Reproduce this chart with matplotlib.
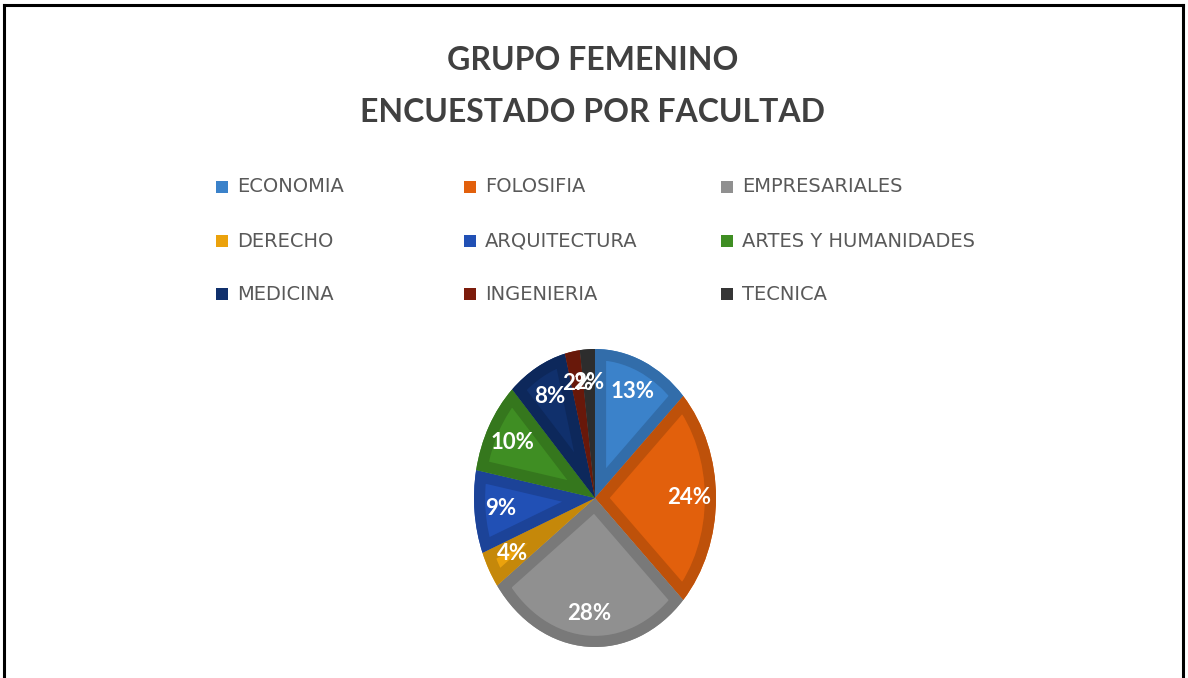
import matplotlib.pyplot as plt
from matplotlib.patches import Rectangle
from matplotlib.lines import Line2D
import matplotlib.colors as mcolors

# data
categorias = ['ECONOMIA', 'FOLOSIFIA', 'EMPRESARIALES',
              'DERECHO', 'ARQUITECTURA', 'ARTES Y HUMANIDADES',
              'MEDICINA', 'INGENIERIA', 'TECNICA']
porcentajes = [13, 24, 28, 4, 9, 10, 8, 2, 2]
colores = ['#3B82CA', '#E2600C', '#909090',
           '#EBA20C', '#2150B5', '#3F8E23',
           '#10306C', '#7C1C0C', '#353535']

W, H = 1188, 678
fig = plt.figure(figsize=(W / 100, H / 100), dpi=100)
fig.patch.set_facecolor('white')

# outer frame (bottom edge is cut off in the original)
for xs, ys in [([4 / W, 4 / W], [0, 1 - 5 / H]),
               ([4 / W, 1 - 5 / W], [1 - 5 / H, 1 - 5 / H]),
               ([1 - 5 / W, 1 - 5 / W], [0, 1 - 5 / H])]:
    fig.add_artist(Line2D(xs, ys, color='black', lw=2.2))

# title
tfont = ['Lato', 'DejaVu Sans']
fig.text(593 / W, 1 - 61 / H, 'GRUPO FEMENINO', ha='center', va='center',
         fontsize=23, fontweight='bold', color='#404040', family=tfont)
fig.text(593 / W, 1 - 113 / H, 'ENCUESTADO POR FACULTAD', ha='center', va='center',
         fontsize=23, fontweight='bold', color='#404040', family=tfont)

# legend, 3 columns
lfont = ['DejaVu Sans']
col_x = [222, 470, 727]
row_y = [187, 241, 294]
for i, (cat, c) in enumerate(zip(categorias, colores)):
    x = col_x[i % 3]
    y = row_y[i // 3]
    fig.add_artist(Rectangle(((x - 6) / W, 1 - (y + 6) / H), 12 / W, 12 / H,
                             transform=fig.transFigure, facecolor=c, edgecolor='none'))
    fig.text((x + 15) / W, 1 - y / H, cat, ha='left', va='center',
             fontsize=14, color='#595959', family=lfont)

# pie (slightly elliptical, like the original)
cx, cy, pw, ph = 595, 498, 242, 298
ax = fig.add_axes([(cx - pw / 2) / W, 1 - (cy + ph / 2) / H, pw / W, ph / H])
oscuros = [tuple(v * 0.84 for v in mcolors.to_rgb(c)) for c in colores]
wedges, textos = ax.pie(porcentajes, colors=colores, startangle=90, counterclock=False,
                        labels=[f'{p}%' for p in porcentajes], labeldistance=0.78,
                        wedgeprops=dict(linewidth=0))
# bevel-like darker band inside each slice
bordes, _ = ax.pie(porcentajes, startangle=90, counterclock=False,
                   wedgeprops=dict(facecolor='none', linewidth=16, joinstyle='miter'))
for b, w, d in zip(bordes, wedges, oscuros):
    b.set_edgecolor(d)
    b.set_clip_on(True)
    b.set_clip_path(w.get_path(), w.get_transform())
for t in textos:
    t.set_color('white')
    t.set_fontsize(16)
    t.set_fontweight('bold')
    t.set_ha('center')
    t.set_va('center')
    t.set_family(tfont)
    t.set_zorder(5)
ax.set_aspect('auto')
ax.set_xlim(-1.0, 1.0)
ax.set_ylim(-1.0, 1.0)
ax.axis('off')

fig.savefig('out.png', dpi=100)
